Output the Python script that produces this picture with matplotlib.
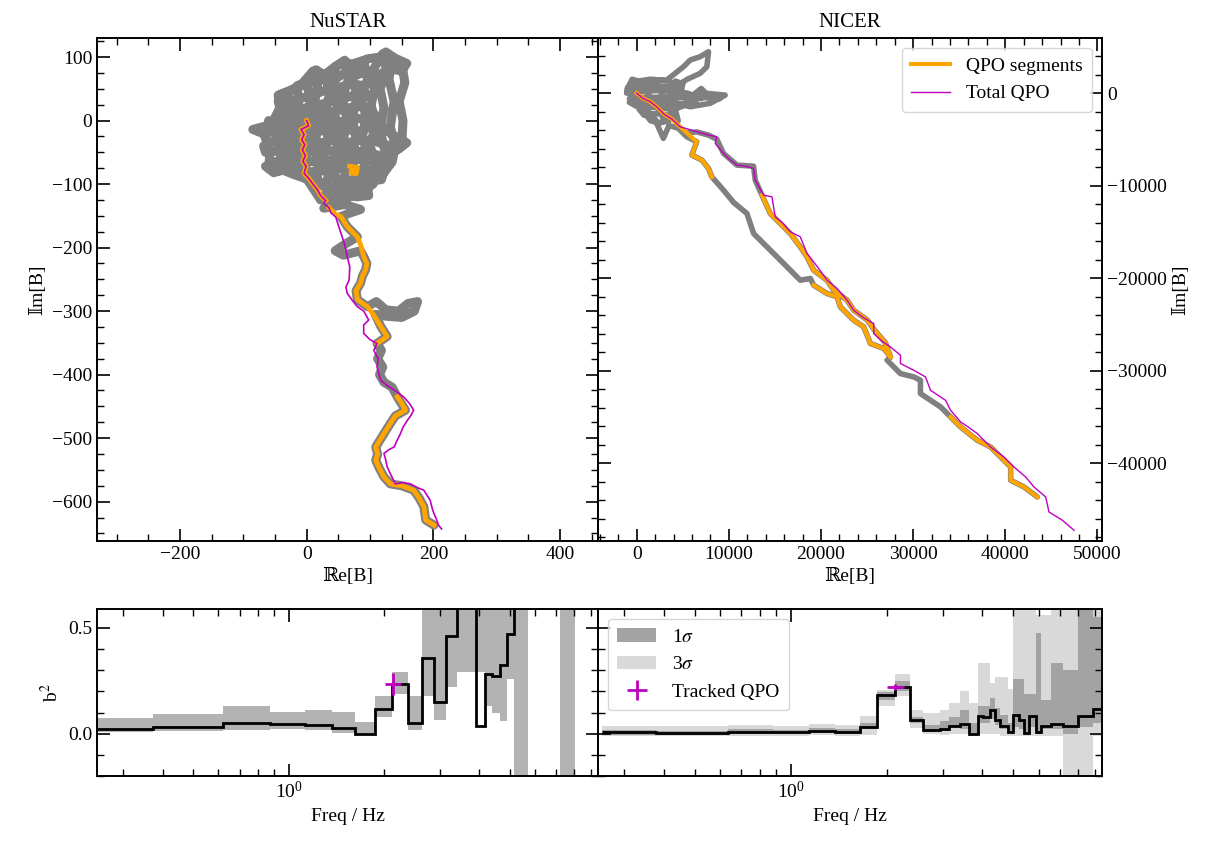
import numpy as np
import matplotlib
matplotlib.use("Agg")
import matplotlib.pyplot as plt
from matplotlib.ticker import MultipleLocator, LogLocator, NullFormatter

plt.rcParams['font.family'] = 'serif'
plt.rcParams['font.serif'] = ['Liberation Serif', 'DejaVu Serif']
plt.rcParams['mathtext.fontset'] = 'stix'
plt.rcParams['font.size'] = 14
plt.rcParams['axes.linewidth'] = 1.4

nan = np.nan

# ---- NuSTAR trajectories (Re, Im) ----
nu_tot_re = [0, -20, -40, -30, -10, 10, 25, 45, 62, 80, 95, 115, 125, 140, 158, 150, 130, 115, 95, 75,
             60, 40, 20, 0, -20, -40, -45, -30, -10, 10, 30, 50, 70, 90, 108, 110, 95, 80, 60, 40,
             20, 0, -20, -45, -50, -35, -15, 5, 25, 45, 65, 85, 102, 110, 95, 75, 55, 35, 15, -5,
             -25, -50, -70, -85, -70, -55, -40, -20, 0, 20, 40, 60, 80, 100, 112, 125, 140, 158, 145, 125,
             105, 85, 65, 45, 25, 5, -15, -35, -55, -68, -65, -45, -25, -5, 15, 35, 55, 75, 95, 115,
             130, 125, 108, 90, 70, 50, 30, 10, -10, -30, -50, -65, -52, -38, -20, 0, 10, 30, 50, 74,
             90, 110, 122, 118, 100, 80, 60, 40, 20, 35, 55, 75, 96, 98, 80, 60, 40, 22,
             -60, -66, -58, -60, -45, -40, -48, -42, -45, -30, -25, -34, -28, -30, -15, -10, -18, -12, -15,
             0, 6, -4, 4, -2, 0, 15, 20, 12, 18, 12, 17, 15, 30, 36, 26, 34, 28, 34, 30,
             45, 50, 40, 48, 42, 50, 44, 45, 60, 66, 56, 64, 58, 66, 58, 60, 75, 80, 70, 78, 72, 80, 72, 75,
             90, 96, 86, 94, 88, 96, 86, 90, 105, 110, 100, 108, 102, 108, 105, 120, 126, 116, 122, 116, 124, 120,
             135, 140, 132, 138, 130, 135, 150, 155, 146, 152, 150,
             27, 45, 60, 85, 70, 54, 64, 72, 80, 60, 45, 58, 85, 90, 95, 93, 88, 85, 78, 80, 96, 110,
             125, 145, 160, 175, 170, 150, 125, 108, 117, 127, 111, 118, 112, 120, 115, 122, 135, 143, 156, 140,
             132, 122, 109, 112, 109, 115, 122, 132, 150, 169, 178, 185, 188, 201]
nu_tot_im = [0, 10, 25, 45, 55, 78, 70, 85, 92, 85, 97, 100, 108, 98, 90, 78, 82, 72, 78, 70,
             75, 62, 65, 58, 50, 42, 30, 25, 35, 40, 48, 52, 58, 55, 62, 45, 38, 42, 35, 30,
             25, 20, 18, 15, 5, 0, 5, 10, 12, 15, 20, 22, 18, 5, 0, 5, -2, 2, -5, -2,
             -8, -5, -10, -14, -20, -18, -25, -20, -18, -15, -20, -12, -18, -10, -5, -15, -25, -35, -45, -38,
             -32, -30, -35, -30, -35, -32, -35, -38, -33, -40, -50, -48, -50, -48, -50, -47, -52, -48, -50, -55,
             -60, -70, -65, -62, -60, -65, -62, -65, -60, -62, -65, -72, -82, -78, -85, -92, -80, -78, -75, -77,
             -80, -78, -80, -93, -95, -92, -95, -92, -100, -108, -105, -110, -104, -118, -120, -118, -122, -125,
             0, -25, -50, -75, -80, -50, -20, 10, 40, 45, 20, -10, -40, -70, -80, -50, -20, 15, 55,
             60, 30, 0, -30, -60, -90, -100, -70, -40, -10, 25, 55, 80, 70, 40, 10, -20, -55, -90, -120,
             -130, -100, -70, -40, -5, 30, 60, 85, 95, 65, 35, 0, -30, -60, -95, -125, -115, -90, -60, -30, 5, 40, 65, 90,
             95, 65, 35, 5, -25, -55, -85, -110, -100, -70, -40, -10, 25, 55, 80, 105, 80, 50, 20, -15, -50, -85,
             -65, -40, -10, 30, 65, 100, 90, 60, 30, 0, -40,
             -138, -135, -132, -140, -145, -151, -167, -175, -183, -195, -205, -212, -205, -214, -225, -235, -245, -256, -268, -282, -293, -285,
             -298, -300, -288, -285, -300, -310, -308, -305, -324, -340, -351, -362, -375, -388, -400, -412, -420, -435, -456, -465,
             -477, -493, -514, -525, -535, -548, -561, -572, -575, -582, -595, -608, -629, -637]
nu_qpo_re = [0, 3, -5, -9, -4, -8, -3, -7, -2, -6, -1, -4, 4, 10, 17, 22, 30, nan,
             68, 80, 78, 70, 72, nan,
             35, 46, 54, 64, 72, 80, 85, 90, 95, 93, 88, 85, 78, 80, 96, 105, 117, 127, 111, nan,
             143, 150, 156, 140, 132, 122, 109, 112, 109, 115, 122, 132, 150, 169, 178, 185, 188, 201]
nu_qpo_im = [0, -8, -12, -14, -22, -30, -38, -46, -55, -64, -72, -83, -92, -100, -109, -118, -126, nan,
             -72, -74, -84, -82, -75, nan,
             -137, -148, -151, -167, -175, -183, -195, -214, -225, -235, -245, -256, -268, -282, -293, -305, -324, -340, -351, nan,
             -435, -445, -456, -465, -477, -493, -514, -525, -535, -548, -561, -572, -575, -582, -595, -608, -629, -637]
nu_sum_re = [0, 3, -5, -9, -4, -8, -3, -7, -2, -6, -1, -4, 4, 10, 17, 22, 30, 27, 35, 38,
             46, 50, 56, 60, 64, 68, 67, 62, 64, 72, 80, 90, 98, 90, 90, 100, 111, 106, 113, 111,
             117, 128, 138, 146, 153, 162, 169, 164, 159, 152, 148, 143, 138, 130, 122, 125, 127, 133, 140, 152,
             164, 175, 185, 190, 195, 198, 201, 205, 208, 213]
nu_sum_im = [0, -8, -12, -14, -22, -30, -38, -46, -55, -64, -72, -83, -92, -100, -109, -118, -126, -130, -137, -145,
             -152, -165, -183, -195, -214, -230, -251, -262, -272, -283, -293, -300, -314, -322, -335, -345, -351, -362, -375, -388,
             -409, -418, -424, -430, -435, -445, -456, -465, -472, -483, -493, -503, -514, -518, -524, -535, -545, -558, -572, -570,
             -572, -578, -582, -590, -598, -610, -619, -628, -637, -643]

# ---- NICER trajectories (Re, Im) ----
ni_tot_re = [0, -1000, -500, 500, 1500, 2500, 3260, 4000, 5070, 5800, 6880, 7790, 7610, 6880, 5500, 4500, 3500,
             -500, 1500, 3500, 4500, 2000, -1000, -1100, 2500, 5500, 7000, 3000, -800, -300, 2500, 5500,
             4000, 2000, 300, 800, 2000, 3500, 3500, 2500, 1500,
             -1000, -500, 0, 600, 1200, 1800, 2400, 3000, 2500, 2000, 1500, 1000, 500, 1000, 2000, 2500, 3000, 3500,
             4000, 4500, 4200, 3800, 3500, 4200, 5000, 4800, 5500, 6500, 6000, 7000, 8000, 9000,
             5800, 7610, 9600,
             7970, 5800, 4000, 2500, 1000, 0, -800, 1000, 2170, 2890, 3500, 4500, 5430, 6520, 5980, 7070, 7790, 8150, 9420, 10500,
             11960, 12680, 13770, 14860, 15940, 17750, 18840, 19200, 20650, 21740, 22100, 23540, 24630, 25360, 26810, 27530, 27170, 28620, 30070, 30790,
             30790, 31880, 32970, 34060, 35150, 36960, 38400, 39850, 40580, 40580, 42030, 43480, nan,
             5430, 6520, 7790, 8700, 9420, 10870, 12680, 12860, 13590, 14490, 15220, 16660, 17750, 18480, 19200, 20650, 21380, 22830, 23540, 25000,
             25720, 27000, 27530]
ni_tot_im = [0, 500, 1500, 1200, 800, 1400, 1400, 2000, 2840, 3570, 3930, 4470, 2840, 2130, 1500, 900, 300,
             1200, 1500, 1300, 600, 800, 600, 0, 300, 0, -600, -400, -600, -1200, -1000, -1200,
             -1800, -1500, -1800, -2400, -2200, -2400, -3000, -3200, -3000,
             300, -300, -800, -1500, -2000, -2600, -3300, -3000, -2000, -1200, -500, 200, 800, 1300, 1000, 300, -500, -1500,
             -2500, -3000, -1800, -700, 600, 1300, 1000, 0, -800, -1200, -300, 500, -500, -600,
             -400, -30, -220,
             -1110, -1480, -1000, -500, -1000, -500, -1000, -2000, -3280, -4900, -3500, -3800, -4720, -5260, -6700, -7240, -8140, -9050, -10490, -11800,
             -13010, -15170, -16250, -17330, -18410, -20220, -20030, -20760, -21650, -22020, -23100, -24540, -25260, -27060, -27600, -28500, -28860, -30310, -30670, -31030,
             -32470, -33190, -33910, -34990, -36070, -37510, -38240, -39680, -40400, -41840, -42560, -43640, nan,
             -4300, -4200, -4540, -5000, -6520, -7780, -7900, -9400, -11030, -13010, -13730, -15170, -16610, -17700, -19140, -20220, -21300, -22380, -23460, -24500,
             -25500, -27000, -28500]
ni_qpo_re = [0, 700, 1400, 2170, 3000, 3800, 4710, 5430, 6520, 5980, 7070, 7790, 8150, nan,
             13590, 14490, 15220, 16660, 17750, 18480, 19200, 20650, 21380, 22830, 23540, 25000, 25720, 27000, 27530, nan,
             19200, 20650, 21740, 22100, 23540, 24630, 25360, 26810, 27530, nan,
             34060, 35150, 36960, 38400, 39850, 40580, 40580, 42030, 43480]
ni_qpo_im = [0, -600, -900, -1480, -2300, -2800, -3640, -4300, -5260, -6700, -7240, -8140, -9050, nan,
             -11030, -13010, -13730, -15170, -16610, -17700, -19140, -20220, -21300, -22380, -23460, -24500, -25500, -27000, -28500, nan,
             -20760, -21650, -22020, -23100, -24540, -25260, -27060, -27600, -28500, nan,
             -34990, -36070, -37510, -38240, -39680, -40400, -41840, -42560, -43640]
ni_sum_re = [0, 700, 1400, 2170, 3000, 3800, 4710, 5600, 6520, 7790, 8700, 8510, 9420, 10000, 10870, 11800, 12680, 12860, 13770, 14670,
             15030, 15800, 16660, 17750, 18480, 19200, 20000, 20650, 21740, 22830, 23540, 24500, 25720, 25720, 26600, 27530, 28620, 28620, 30070, 31340,
             31880, 33510, 34060, 35150, 36000, 36960, 38400, 39850, 40940, 42210, 43110, 44380, 44740, 46200, 47460]
ni_sum_im = [0, -600, -900, -1480, -2300, -2800, -3640, -3900, -4180, -4540, -4720, -5440, -6520, -7100, -7780, -7900, -8140, -9400, -11030, -11210,
             -13370, -14000, -14990, -15530, -17330, -18240, -19300, -20220, -21110, -22380, -23460, -24200, -24900, -25980, -26800, -27430, -28320, -29220, -29950, -30670,
             -32110, -33190, -34270, -35530, -36100, -36790, -38240, -39320, -40400, -41480, -42560, -43640, -45260, -46160, -47240]

# ---- b^2 spectra ----
nu_edges = [0.246, 0.372, 0.619, 0.871, 1.124, 1.375, 1.626, 1.880, 2.128, 2.386, 2.630, 2.876,
            3.139, 3.394, 3.898, 4.17, 4.40, 4.65, 4.91, 5.16, 5.69, 7.20, 8.04]
nu_b2 = [0.024, 0.030, 0.053, 0.047, 0.041, 0.027, 0.0, 0.118, 0.236, 0.053, 0.357, 0.149,
         0.464, 0.90, 0.035, 0.283, 0.274, 0.324, 0.472, 2.0, nan, 1.5]
nu_lo = [0.008, 0.011, 0.019, 0.022, 0.016, 0.005, 0.0, 0.079, 0.189, 0.019, 0.176, 0.063,
         0.22, 0.294, 0.294, 0.129, 0.097, 0.061, 0.258, -3, nan, -3]
nu_hi = [0.074, 0.094, 0.132, 0.101, 0.11, 0.101, 0.057, 0.176, 0.294, 0.179, 1.5, 1.5,
         1.5, 1.5, 1.5, 1.5, 1.5, 1.5, 1.5, 3, nan, 3]
nu_qpo_f, nu_qpo_ferr, nu_qpo_b2, nu_qpo_b2err = 2.14, 0.13, 0.236, 0.053

ni_edges = [0.255, 0.378, 0.634, 0.877, 1.14, 1.38, 1.65, 1.87, 2.12, 2.37, 2.61, 2.94, 3.13, 3.40, 3.63, 3.86,
            4.02, 4.22, 4.38, 4.55, 4.81, 4.99, 5.21, 5.42, 5.62, 5.90, 6.11, 6.58, 7.14, 7.96, 8.87, 9.42]
ni_b2 = [0.006, 0.003, 0.009, 0.006, 0.014, 0.009, 0.033, 0.184, 0.223, 0.063, 0.016, 0.022, 0.038, 0.047, -0.002,
         0.082, 0.078, 0.110, 0.063, 0.038, 0.006, 0.090, 0.063, 0.005, 0.082, 0.009, 0.035, 0.047, 0.035, 0.082, 0.116]
ni_lo1 = [-0.004, -0.006, 0.0, -0.003, 0.004, 0.0, 0.02, 0.16, 0.20, 0.05, 0.01, 0.015, 0.03, 0.02, -0.005,
          0.05, 0.05, 0.07, 0.04, 0.02, 0.0, 0.03, 0.02, 0.0, 0.03, 0.0, 0.02, 0.02, 0.0, 0.03, 0.05]
ni_hi1 = [0.018, 0.015, 0.02, 0.017, 0.025, 0.02, 0.05, 0.196, 0.25, 0.08, 0.04, 0.06, 0.08, 0.11, 0.05,
          0.13, 0.13, 0.17, 0.12, 0.09, 0.05, 0.26, 0.26, 0.19, 0.19, 0.475, 0.16, 0.335, 0.30, 0.585, 0.55]
ni_lo3 = [-0.012, -0.012, -0.01, -0.012, -0.006, -0.01, -0.006, 0.129, 0.176, 0.027, 0.0, -0.005, 0.0, 0.0, -0.01,
          0.0, 0.0, 0.0, 0.0, -0.01, -0.01, -0.01, -0.01, -0.01, -0.01, -0.01, -0.01, -0.01, -0.5, -0.5, -0.01]
ni_hi3 = [0.035, 0.035, 0.04, 0.038, 0.045, 0.04, 0.082, 0.208, 0.283, 0.113, 0.10, 0.11, 0.145, 0.20, 0.145,
          0.335, 0.335, 0.24, 0.27, 0.27, 0.21, 1.0, 1.0, 1.0, 1.0, 0.56, 0.56, 1.0, 1.0, 1.0, 1.0]
ni_qpo_f, ni_qpo_ferr, ni_qpo_b2, ni_qpo_b2err = 2.13, 0.13, 0.223, 0.014

re_label = '\u211de[B]'
im_label = '\U0001D540m[B]'
label_fonts = ['Liberation Serif', 'DejaVu Serif', 'DejaVu Sans']


def style_axis(ax):
    ax.tick_params(which='both', direction='in', top=True, right=True, labelsize=14)
    ax.tick_params(which='major', length=9, width=1.2)
    ax.tick_params(which='minor', length=5, width=1.0)


fig = plt.figure(figsize=(12.16, 8.41), dpi=100)
ax1 = fig.add_axes([0.0798, 0.3567, 0.412, 0.5981])
ax2 = fig.add_axes([0.4918, 0.3567, 0.4145, 0.5981])
ax3 = fig.add_axes([0.0798, 0.0773, 0.412, 0.1986])
ax4 = fig.add_axes([0.4918, 0.0773, 0.4145, 0.1986])

# NuSTAR
ax1.plot(nu_tot_re, nu_tot_im, color='grey', lw=6.5, solid_capstyle='round', solid_joinstyle='round')
ax1.plot(nu_qpo_re, nu_qpo_im, color='orange', lw=3.5, solid_joinstyle='round')
ax1.plot(nu_sum_re, nu_sum_im, color='m', lw=1.2)
ax1.set_xlim(-331, 460)
ax1.set_ylim(-662, 130)
ax1.xaxis.set_major_locator(MultipleLocator(200))
ax1.xaxis.set_minor_locator(MultipleLocator(50))
ax1.yaxis.set_major_locator(MultipleLocator(100))
ax1.yaxis.set_minor_locator(MultipleLocator(25))
style_axis(ax1)
ax1.set_xlabel(re_label, fontsize=14, family=label_fonts)
ax1.set_ylabel(im_label, fontsize=14, family=label_fonts)
ax1.set_title('NuSTAR', fontsize=15, pad=8)

# NICER
ax2.plot(ni_tot_re, ni_tot_im, color='grey', lw=4, solid_capstyle='round', solid_joinstyle='round')
ax2.plot(ni_qpo_re, ni_qpo_im, color='orange', lw=3, solid_joinstyle='round', label='QPO segments')
ax2.plot(ni_sum_re, ni_sum_im, color='m', lw=1.0, label='Total QPO')
ax2.set_xlim(-4200, 50500)
ax2.set_ylim(-48400, 5950)
ax2.xaxis.set_major_locator(MultipleLocator(10000))
ax2.xaxis.set_minor_locator(MultipleLocator(2000))
ax2.yaxis.set_major_locator(MultipleLocator(10000))
ax2.yaxis.set_minor_locator(MultipleLocator(2000))
style_axis(ax2)
ax2.tick_params(labelleft=False, labelright=True)
ax2.yaxis.set_label_position('right')
ax2.set_xlabel(re_label, fontsize=14, family=label_fonts)
ax2.set_ylabel(im_label, fontsize=14, family=label_fonts)
ax2.set_title('NICER', fontsize=15, pad=8)
ax2.legend(loc='upper right', fontsize=14, handlelength=2.0, borderpad=0.5)

# b^2 NuSTAR
ax3.stairs(nu_hi, nu_edges, baseline=nu_lo, fill=True, color='#b3b3b3', lw=0)
ax3.stairs(nu_b2, nu_edges, baseline=None, color='k', lw=2)
ax3.errorbar([nu_qpo_f], [nu_qpo_b2], xerr=[nu_qpo_ferr], yerr=[nu_qpo_b2err], fmt='none',
             ecolor='m', elinewidth=2, zorder=5)
ax3.set_ylabel(r'b$^2$', fontsize=14)

# b^2 NICER
ax4.stairs(ni_hi3, ni_edges, baseline=ni_lo3, fill=True, color='#d9d9d9', lw=0, label=r'3$\sigma$')
ax4.stairs(ni_hi1, ni_edges, baseline=ni_lo1, fill=True, color='#a3a3a3', lw=0, label=r'1$\sigma$')
ax4.stairs(ni_b2, ni_edges, baseline=None, color='k', lw=2)
ax4.errorbar([ni_qpo_f], [ni_qpo_b2], xerr=[ni_qpo_ferr], yerr=[ni_qpo_b2err], fmt='none',
             ecolor='m', elinewidth=2, zorder=5, label='Tracked QPO')
h, l = ax4.get_legend_handles_labels()
order = [l.index(r'1$\sigma$'), l.index(r'3$\sigma$'), l.index('Tracked QPO')]
ax4.legend([h[i] for i in order], [l[i] for i in order], loc='upper left', fontsize=14,
           handlelength=2.0, borderpad=0.5)

for ax in (ax3, ax4):
    ax.set_xscale('log')
    ax.set_xlim(0.248, 9.5)
    ax.set_ylim(-0.2, 0.59)
    ax.yaxis.set_major_locator(MultipleLocator(0.5))
    ax.yaxis.set_minor_locator(MultipleLocator(0.1))
    ax.xaxis.set_minor_locator(LogLocator(base=10, subs=np.arange(2, 10)))
    ax.xaxis.set_minor_formatter(NullFormatter())
    style_axis(ax)
    ax.set_xlabel('Freq / Hz', fontsize=14)
ax4.tick_params(labelleft=False)

fig.savefig('out.png', dpi=100)
